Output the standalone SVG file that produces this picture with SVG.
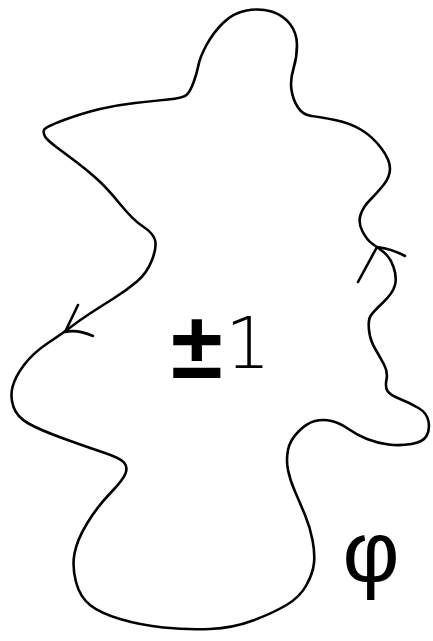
<svg xmlns="http://www.w3.org/2000/svg" width="433" height="641" viewBox="0 0 433 641">
<style>
.ln{fill:none;stroke:#000;stroke-width:2.6;stroke-linecap:round;stroke-linejoin:round}
.lbl{font-family:"Liberation Sans",Arial,sans-serif;fill:#000}
</style>
<rect width="433" height="641" fill="#fff"/>
<g id="connectors">
<path id="curve" class="ln" d="M271.5,11.5 Q260,8 246.5,10.5 Q233,13 223,23 Q213,33 206.5,45 Q200,57 198.5,65 Q197,73 193.5,82.5 Q190,92 186.5,95 Q183,98 168,99.5 Q153,101 135,103 Q117,105 100,109 Q83,113 64,120 Q45,127 44,130 Q43,133 45,136.5 Q47,140 57,147.5 Q67,155 77,162.5 Q87,170 97,179 Q107,188 120,204 Q133,220 143,226.5 Q153,233 155,240 Q157,247 152,260 Q147,273 137,281.5 Q127,290 113.5,298.5 Q100,307 90,313.5 Q80,320 71.5,326.5 Q63,333 48,343 Q33,353 24,365 Q15,377 12.5,387 Q10,397 13.5,407 Q17,417 28.5,423.5 Q40,430 63.5,438.5 Q87,447 103.5,452.5 Q120,458 124,462.5 Q128,467 125.5,473.5 Q123,480 110,493.5 Q97,507 87,523.5 Q77,540 74.5,553.5 Q72,567 76,582 Q80,597 90,605 Q100,613 120,619 Q140,625 163.5,627.5 Q187,630 210,629 Q233,628 253,620.5 Q273,613 286.5,605 Q300,597 306.5,585 Q313,573 314,563 Q315,553 312.5,540 Q310,527 305,515 Q300,503 295,491.5 Q290,480 288,470 Q286,460 288,450 Q290,440 298.5,431.5 Q307,423 315,421 Q323,419 331.5,421 Q340,423 348.5,429 Q357,435 367,439 Q377,443 388.5,444.5 Q400,446 411.5,444 Q423,442 426.5,436 Q430,430 428.5,421.5 Q427,413 418.5,408 Q410,403 400,399 Q390,395 387.5,391 Q385,387 386.5,379.5 Q388,372 384,364.5 Q380,357 375,348.5 Q370,340 369,330 Q368,320 370.5,316 Q373,312 383,302.5 Q393,293 395,285 Q397,277 393.5,267 Q390,257 383.5,252 Q377,247 372,243.5 Q367,240 362.5,231.5 Q358,223 360.5,215 Q363,207 370,200 Q377,193 383.5,185 Q390,177 390,168.5 Q390,160 381.5,148.5 Q373,137 361.5,130 Q350,123 335,120 Q320,117 311.5,116 Q303,115 298,107.5 Q293,100 291.5,90 Q290,80 293.5,68.5 Q297,57 297,45 Q297,33 290,24 Q283,15 271.5,11.5 Z"/>
<path id="arrow-left" class="ln" d="M78,305 L65,332 Q77,329 93,336"/>
<path id="arrow-right" class="ln" d="M358,282 L377,247 Q392,249 405,256"/>
</g>
<g id="region-label">
<text class="lbl"><tspan x="171" y="378" font-size="94" font-weight="bold">±</tspan><tspan x="225" y="368" font-size="72" font-family="DejaVu Sans" font-weight="200">1</tspan></text>
</g>
<g id="phi-label">
<text class="lbl" x="371" y="582" font-size="88" font-family="DejaVu Sans" text-anchor="middle">φ</text>
</g>
</svg>
